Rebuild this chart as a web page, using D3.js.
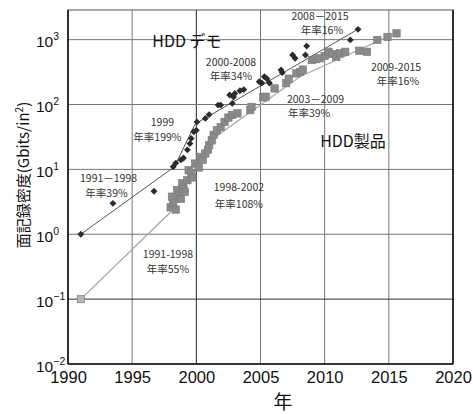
<!DOCTYPE html>
<html><head><meta charset="utf-8">
<script src="https://cdn.jsdelivr.net/npm/d3@7"></script>
<style>
html,body{margin:0;padding:0;background:#fff;}
svg{display:block;}
</style></head>
<body>
<svg id="c" width="473" height="414"></svg>
<script>
// ---- data ----
const demoPoints = [
 [1991.0,1.0],[1993.5,3.0],[1996.7,4.6],[1998.2,11],[1998.4,12.5],[1998.8,14],[1999.0,15],
 [1999.3,20],[1999.5,25],[1999.6,30],[1999.8,38],[2000.0,40],[2000.05,54],[2000.7,61],
 [2001.0,70],[2001.7,98],[2001.9,98],[2002.6,140],[2002.8,104],[2002.9,130],[2003.0,148],
 [2003.4,163],[2003.7,170],[2004.9,224],[2005.1,215],[2005.3,268],[2005.5,250],[2005.7,215],
 [2006.6,340],[2006.7,310],[2007.5,580],[2007.7,515],[2008.5,580],[2008.6,795],[2012.0,990],[2012.6,1440]
];
const productPoints = [
 [1991.0,0.1],[1998.0,2.6],[1998.1,3.8],[1998.2,3.0],[1998.4,2.4],[1998.5,4.8],[1998.7,4.0],
 [1998.8,3.5],[1998.9,6.1],[1999.0,5.0],[1999.1,4.5],[1999.3,6.8],[1999.4,9.7],[1999.6,8.6],
 [1999.7,7.5],[1999.9,12.3],[2000.2,10.7],[2000.3,15.6],[2000.5,14],[2000.7,17.6],[2000.9,20],
 [2001.0,23.6],[2001.2,28],[2001.35,34],[2001.6,40],[2001.9,45],[2002.2,54],[2002.5,63],
 [2002.8,69],[2003.2,73],[2004.2,82],[2004.3,92],[2005.2,129],[2005.4,132],[2006.1,177],
 [2007.0,213],[2007.2,250],[2007.8,302],[2008.1,318],[2008.3,345],[2009.0,485],[2009.3,500],
 [2009.6,515],[2010.0,560],[2010.3,650],[2010.6,600],[2010.9,540],[2011.2,620],[2011.6,650],
 [2012.7,675],[2013.3,650],[2014.1,990],[2014.9,1100],[2015.6,1250]
];
const demoTrend = [[1991,1],[1998.3,11],[1999.9,50],[2012.6,1450]];
const productTrend = [[1991,0.1],[1998.1,2.3],[2001.1,28],[2008.1,270],[2015.5,1250]];
const xTicks = [1990,1995,2000,2005,2010,2015,2020];
const yTickExps = [-2,-1,0,1,2,3];
const annotations = [
 {t:"HDD デモ", x:1999.27, y:942, a:"middle", big:true},
 {t:"HDD製品", x:2012.21, y:27.5, a:"middle", big:true},
 {t:"2000-2008", x:2002.70, y:455, a:"middle"},
 {t:"年率34%", x:2002.70, y:277, a:"middle"},
 {t:"2008－2015", x:2009.64, y:2330, a:"middle"},
 {t:"年率16%", x:2009.79, y:1417, a:"middle"},
 {t:"2009-2015", x:2015.56, y:380, a:"middle"},
 {t:"年率16%", x:2015.71, y:232, a:"middle"},
 {t:"2003－2009", x:2007.06, y:122, a:"start"},
 {t:"年率39%", x:2007.14, y:74, a:"start"},
 {t:"1999", x:1997.36, y:53, a:"middle"},
 {t:"年率199%", x:1996.97, y:31.7, a:"middle"},
 {t:"1991－1998", x:1993.16, y:7.4, a:"middle"},
 {t:"年率39%", x:1993.0, y:4.34, a:"middle"},
 {t:"1998-2002", x:2003.32, y:5.37, a:"middle"},
 {t:"年率108%", x:2003.32, y:2.93, a:"middle"},
 {t:"1991-1998", x:1997.79, y:0.497, a:"middle"},
 {t:"年率55%", x:1997.79, y:0.292, a:"middle"}
];

// ---- chart ----
const svg = d3.select("#c");
const L=68, R=453, T=10, B=364;
const x = d3.scaleLinear().domain([1990,2020]).range([L,R]);
const y = d3.scaleLog().domain([0.01,2864]).range([B,T]);
const jp = "'Noto Sans CJK JP','Noto Sans',sans-serif";
const lat = "'Liberation Sans',Arial,sans-serif";

// gridlines
svg.append("g").selectAll("line").data(xTicks.slice(1,-1)).join("line")
 .attr("x1",d=>x(d)).attr("x2",d=>x(d)).attr("y1",T).attr("y2",B)
 .attr("stroke",d=>d===2000?"#222":"#777").attr("stroke-width",1);
svg.append("g").selectAll("line").data(yTickExps.slice(1)).join("line")
 .attr("x1",L).attr("x2",R).attr("y1",d=>y(Math.pow(10,d))).attr("y2",d=>y(Math.pow(10,d)))
 .attr("stroke",d=>d===-1?"#333":"#777").attr("stroke-width",1);

// frame
svg.append("rect").attr("x",L).attr("y",T).attr("width",R-L).attr("height",B-T)
 .attr("fill","none").attr("stroke","#555").attr("stroke-width",1);
svg.append("line").attr("x1",L).attr("x2",L).attr("y1",T).attr("y2",B).attr("stroke","#111").attr("stroke-width",1.6);
svg.append("line").attr("x1",R).attr("x2",R).attr("y1",T).attr("y2",B).attr("stroke","#111").attr("stroke-width",1.6);
svg.append("line").attr("x1",L).attr("x2",R).attr("y1",B).attr("y2",B).attr("stroke","#111").attr("stroke-width",1.4);

// x axis
const xa = svg.append("g").attr("transform",`translate(0,${B})`)
 .call(d3.axisBottom(x).tickValues(xTicks).tickFormat(d3.format("d")).tickSize(0).tickPadding(7));
xa.select(".domain").remove();
xa.selectAll("text").attr("font-family",lat).attr("font-size",16.5).attr("fill","#111");

// y axis
const ya = svg.append("g").attr("transform",`translate(${L},0)`)
 .call(d3.axisLeft(y).tickValues(yTickExps.map(e=>Math.pow(10,e))).tickFormat("").tickSize(0));
ya.select(".domain").remove();
ya.selectAll(".tick").each(function(d){
  const e = Math.round(Math.log10(d));
  const g = d3.select(this);
  g.select("text").remove();
  const t = g.append("text").attr("x",-32).attr("y",7).attr("text-anchor","start")
   .attr("font-family",lat).attr("font-size",15.5).attr("fill","#111");
  t.append("tspan").text("10");
  t.append("tspan").attr("dy",-7).attr("font-size",10.5).text(e<0?"−"+(-e):String(e));
});

// trend lines
const line = d3.line().x(d=>x(d[0])).y(d=>y(d[1]));
svg.append("path").datum(productTrend).attr("d",line).attr("fill","none").attr("stroke","#a8a8a8").attr("stroke-width",1.3);
svg.append("path").datum(demoTrend).attr("d",line).attr("fill","none").attr("stroke","#555").attr("stroke-width",1);

// product squares
svg.append("g").selectAll("rect").data(productPoints).join("rect")
 .attr("x",d=>x(d[0])-3.7).attr("y",d=>y(d[1])-3.7).attr("width",7.4).attr("height",7.4)
 .attr("fill",(d,i)=>i===0?"#b5b5b5":"#8a8a8a").attr("stroke",(d,i)=>i===0?"#777":"#7a7a7a").attr("stroke-width",0.6);

// demo diamonds
const diamond = d3.symbol().type(d3.symbolDiamond2).size(30);
svg.append("g").selectAll("path").data(demoPoints).join("path")
 .attr("transform",d=>`translate(${x(d[0])},${y(d[1])})`).attr("d",diamond).attr("fill","#2b2b2b");

// annotations
svg.append("g").selectAll("text").data(annotations).join("text")
 .attr("x",d=>x(d.x)).attr("y",d=>y(d.y)).attr("dy","0.36em")
 .attr("text-anchor",d=>d.a).attr("font-family",jp)
 .attr("font-size",d=>d.big?16:10.5).attr("fill",d=>d.big?"#111":"#333")
 .text(d=>d.t);

// axis titles
svg.append("text").attr("x",283).attr("y",409).attr("text-anchor","middle")
 .attr("font-family",jp).attr("font-size",19).attr("fill","#111").text("年");
const yl = svg.append("text").attr("transform","translate(29,175) rotate(-90)").attr("text-anchor","middle")
 .attr("font-family",jp).attr("font-size",15).attr("fill","#111");
yl.append("tspan").text("面記録密度(Gbits/in");
yl.append("tspan").attr("dy",-6).attr("font-size",10).text("2");
yl.append("tspan").attr("dy",6).text(")");
</script>
</body></html>
